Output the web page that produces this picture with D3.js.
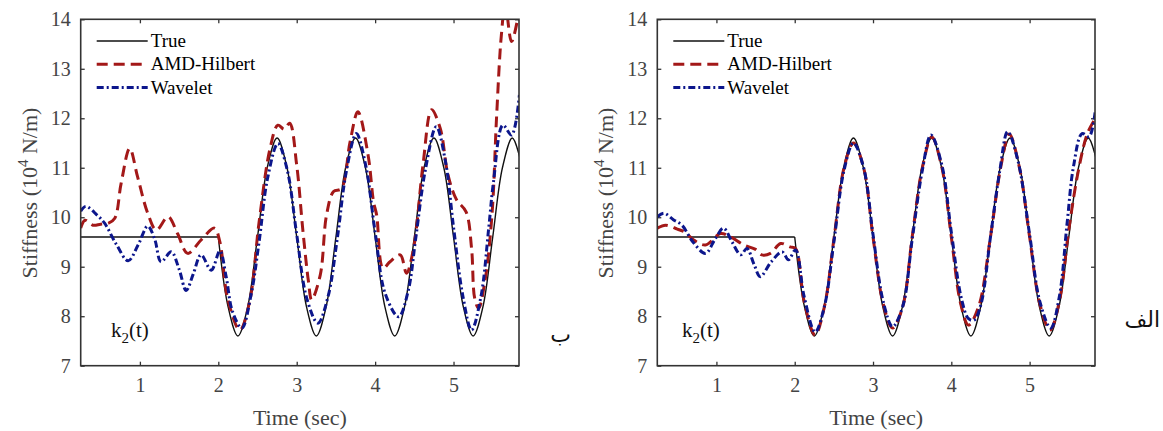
<!DOCTYPE html>
<html>
<head>
<meta charset="utf-8">
<script src="https://cdn.jsdelivr.net/npm/d3@7/dist/d3.min.js"></script>
<style>
  body { margin: 0; background: #fff; }
  svg { display: block; font-family: "Liberation Serif", "Times New Roman", "DejaVu Serif", serif; }
</style>
</head>
<body>
<svg id="chart" width="1163" height="431"></svg>
<script>
// ---- data ----
const xTicks = [1, 2, 3, 4, 5];
const yTicks = [7, 8, 9, 10, 11, 12, 13, 14];
const legendLabels = ["True", "AMD-Hilbert", "Wavelet"];

// true stiffness: flat part, then oscillation
const trueFlatT = [0.245, 2.0];
const trueFlatK = [9.6, 9.6];
const trueWaveT = [2.0, 2.125, 2.25, 2.375, 2.5, 2.625, 2.75, 2.875, 3.0, 3.125, 3.25, 3.375, 3.5, 3.625, 3.75, 3.875,
                   4.0, 4.125, 4.25, 4.375, 4.5, 4.625, 4.75, 4.875, 5.0, 5.125, 5.25, 5.375, 5.5, 5.625, 5.75, 5.875];
const trueWaveK = [9.6, 8.19, 7.6, 8.19, 9.6, 11.01, 11.6, 11.01, 9.6, 8.19, 7.6, 8.19, 9.6, 11.01, 11.6, 11.01,
                   9.6, 8.19, 7.6, 8.19, 9.6, 11.01, 11.6, 11.01, 9.6, 8.19, 7.6, 8.19, 9.6, 11.01, 11.6, 11.01];

// panel "ب" (left)
const amdLeftT = [0.245, 0.30, 0.40, 0.50, 0.60, 0.68, 0.76, 0.87, 0.97, 1.10, 1.21, 1.36, 1.48, 1.61, 1.78, 1.95, 2.02,
                  2.12, 2.275, 2.40, 2.52, 2.66, 2.76, 2.84, 2.91, 3.0, 3.08, 3.15, 3.19, 3.30, 3.38, 3.47, 3.57,
                  3.68, 3.78, 3.91, 3.98, 4.02, 4.10, 4.19, 4.32, 4.40, 4.49, 4.61, 4.72, 4.83, 4.93, 5.04, 5.16,
                  5.23, 5.27, 5.32, 5.40, 5.49, 5.55, 5.61, 5.66, 5.74, 5.84];
const amdLeftK = [9.78, 9.94, 9.84, 9.86, 9.88, 9.98, 10.68, 11.39, 10.82, 10.08, 9.74, 10.01, 9.67, 9.27, 9.54, 9.78, 9.50,
                  8.35, 7.72, 8.3, 9.9, 11.39, 11.86, 11.78, 11.90, 11.05, 9.71, 8.70, 8.33, 8.83, 10.04, 10.52, 10.58,
                  11.52, 12.13, 11.26, 10.31, 10.04, 8.97, 9.10, 9.24, 8.87, 9.37, 11.05, 12.17, 11.80, 10.85, 10.35, 10.11,
                  9.37, 8.36, 8.16, 8.70, 10.04, 12.06, 13.68, 14.3, 13.55, 14.2];
const wavLeftT = [0.245, 0.31, 0.45, 0.55, 0.70, 0.85, 0.98, 1.10, 1.19, 1.27, 1.40, 1.50, 1.59, 1.68, 1.78, 1.91, 2.02,
                  2.10, 2.18, 2.30, 2.42, 2.52, 2.63, 2.76, 2.88, 3.0, 3.13, 3.27, 3.40, 3.52, 3.63, 3.76, 3.88,
                  4.0, 4.13, 4.30, 4.42, 4.52, 4.64, 4.78, 4.90, 5.0, 5.12, 5.23, 5.35, 5.45, 5.51, 5.63, 5.74, 5.84];
const wavLeftK = [10.12, 10.22, 10.05, 9.88, 9.45, 9.12, 9.45, 9.82, 9.55, 9.10, 9.30, 8.95, 8.52, 8.85, 9.24, 8.93, 9.32,
                  8.80, 8.10, 7.76, 8.45, 9.5, 10.8, 11.49, 10.95, 9.65, 8.35, 7.86, 8.4, 9.6, 10.9, 11.69, 11.05,
                  9.7, 8.45, 7.99, 8.5, 9.6, 10.95, 11.83, 11.1, 9.8, 8.4, 7.72, 8.4, 9.8, 10.72, 11.86, 11.66, 12.47];

// panel "الف" (right)
const amdRightT = [0.245, 0.35, 0.50, 0.60, 0.71, 0.86, 1.05, 1.16, 1.35, 1.50, 1.58, 1.69, 1.82, 1.94, 2.01,
                   2.12, 2.26, 2.38, 2.5, 2.63, 2.75, 2.88, 3.0, 3.13, 3.25, 3.38, 3.5, 3.63, 3.75, 3.88,
                   4.0, 4.12, 4.22, 4.35, 4.5, 4.63, 4.74, 4.87, 5.0, 5.13, 5.26, 5.38, 5.5, 5.63, 5.74, 5.84];
const amdRightK = [9.78, 9.84, 9.76, 9.70, 9.54, 9.44, 9.67, 9.62, 9.44, 9.35, 9.24, 9.27, 9.47, 9.40, 9.37,
                   8.3, 7.62, 8.2, 9.55, 11.0, 11.5, 11.0, 9.6, 8.25, 7.76, 8.2, 9.6, 11.0, 11.62, 11.0,
                   9.6, 8.25, 7.82, 8.2, 9.6, 11.0, 11.68, 11.0, 9.6, 8.25, 7.72, 8.3, 9.75, 11.0, 11.7, 12.0];
const wavRightT = [0.245, 0.33, 0.45, 0.56, 0.70, 0.86, 0.98, 1.09, 1.20, 1.31, 1.39, 1.48, 1.56, 1.70, 1.84, 1.92, 2.01,
                   2.12, 2.26, 2.38, 2.5, 2.63, 2.75, 2.88, 3.0, 3.13, 3.25, 3.38, 3.5, 3.63, 3.74, 3.88,
                   4.0, 4.13, 4.22, 4.29, 4.38, 4.5, 4.62, 4.72, 4.85, 5.0, 5.13, 5.27, 5.38, 5.48, 5.56, 5.67, 5.76, 5.84];
const wavRightK = [10.01, 10.08, 9.95, 9.84, 9.50, 9.27, 9.55, 9.78, 9.50, 9.24, 9.37, 9.05, 8.80, 9.10, 9.30, 9.14, 9.34,
                   8.40, 7.68, 8.2, 9.5, 10.95, 11.5, 11.0, 9.65, 8.3, 7.79, 8.2, 9.55, 10.95, 11.66, 11.05,
                   9.7, 8.35, 7.95, 7.92, 8.25, 9.6, 10.95, 11.73, 11.15, 9.65, 8.3, 7.76, 8.4, 9.9, 11.02, 11.69, 11.63, 12.17];

// ---- styling ----
const colorTrue = "#111";
const colorAmd = "#a31818";
const colorWav = "#0c168c";
const tickColor = "#444";
const serif = "'Liberation Serif', 'Times New Roman', 'DejaVu Serif', serif";

const svg = d3.select("#chart");
const plotH = { top: 19.3, bottom: 365.7 };

const y = d3.scaleLinear().domain([7, 14]).range([plotH.bottom, plotH.top]);

function drawPanel(left, right, id, amdT, amdK, wavT, wavK, tag, tagX, tagY, kX) {
    const x = d3.scaleLinear().domain([0.245, 5.835]).range([left, right]);
    const g = svg.append("g");

    g.append("clipPath").attr("id", "clip" + id)
        .append("rect")
        .attr("x", left).attr("y", plotH.top)
        .attr("width", right - left).attr("height", plotH.bottom - plotH.top);

    // axes (ticks inward on all four sides)
    const fmt = d3.format("d");
    const axB = g.append("g").attr("transform", `translate(0,${plotH.bottom})`)
        .call(d3.axisBottom(x).tickValues(xTicks).tickFormat(fmt).tickSize(-4).tickPadding(12));
    const axT = g.append("g").attr("transform", `translate(0,${plotH.top})`)
        .call(d3.axisTop(x).tickValues(xTicks).tickSize(-4).tickFormat(""));
    const axL = g.append("g").attr("transform", `translate(${left},0)`)
        .call(d3.axisLeft(y).tickValues(yTicks).tickFormat(fmt).tickSize(-4).tickPadding(10));
    const axR = g.append("g").attr("transform", `translate(${right},0)`)
        .call(d3.axisRight(y).tickValues(yTicks).tickSize(-4).tickFormat(""));

    [axB, axT, axL, axR].forEach(a => {
        a.attr("font-family", null);
        a.select(".domain").remove();
        a.selectAll("line").attr("stroke", "#333").attr("stroke-width", 1.3);
        a.selectAll("text").attr("fill", tickColor).style("font-size", "20px")
            .style("font-family", serif);
    });

    const line = d3.line()
        .x(d => x(d[0]))
        .y(d => y(d[1]))
        .curve(d3.curveCatmullRom.alpha(0.5));

    const lines = g.append("g").attr("clip-path", `url(#clip${id})`);

    lines.append("path").datum(d3.zip(trueFlatT, trueFlatK))
        .attr("d", line.curve(d3.curveLinear)).attr("fill", "none")
        .attr("stroke", colorTrue).attr("stroke-width", 1.4);
    line.curve(d3.curveCatmullRom.alpha(0.5));
    lines.append("path").datum(d3.zip(trueWaveT, trueWaveK))
        .attr("d", line).attr("fill", "none")
        .attr("stroke", colorTrue).attr("stroke-width", 1.4);

    lines.append("path").datum(d3.zip(amdT, amdK))
        .attr("d", line).attr("fill", "none")
        .attr("stroke", colorAmd).attr("stroke-width", 3)
        .attr("stroke-dasharray", "11,6");

    lines.append("path").datum(d3.zip(wavT, wavK))
        .attr("d", line).attr("fill", "none")
        .attr("stroke", colorWav).attr("stroke-width", 3)
        .attr("stroke-dasharray", "7,3,2,3");

    // frame
    g.append("rect")
        .attr("x", left).attr("y", plotH.top)
        .attr("width", right - left).attr("height", plotH.bottom - plotH.top)
        .attr("fill", "none").attr("stroke", "#333").attr("stroke-width", 1.6);

    // axis titles
    g.append("text")
        .attr("x", (left + right) / 2)
        .attr("y", 425)
        .attr("text-anchor", "middle")
        .attr("fill", tickColor)
        .style("font-family", serif)
        .style("font-size", "22px")
        .text("Time (sec)");

    const yl = g.append("text")
        .attr("transform", `translate(${left - 44},193) rotate(-90)`)
        .attr("text-anchor", "middle")
        .attr("fill", tickColor)
        .style("font-family", serif)
        .style("font-size", "22px");
    yl.append("tspan").text("Stiffness (10");
    yl.append("tspan").attr("dy", -9).style("font-size", "15px").text("4");
    yl.append("tspan").attr("dy", 9).text(" N/m)");

    // legend
    const legendStyles = [
        { color: colorTrue, width: 1.4, dash: null },
        { color: colorAmd, width: 3, dash: "11,6" },
        { color: colorWav, width: 3, dash: "7,3,2,3" }
    ];
    legendLabels.forEach((lab, i) => {
        const ly = 41 + i * 23.3;
        g.append("line")
            .attr("x1", left + 16).attr("x2", left + 67)
            .attr("y1", ly).attr("y2", ly)
            .attr("stroke", legendStyles[i].color)
            .attr("stroke-width", legendStyles[i].width)
            .attr("stroke-dasharray", legendStyles[i].dash);
        g.append("text")
            .attr("x", left + 70).attr("y", ly + 6)
            .attr("fill", "#000")
            .style("font-family", serif)
            .style("font-size", "19px")
            .text(lab);
    });

    // k2(t) label
    const kt = g.append("text").attr("x", kX).attr("y", 337).attr("fill", "#111")
        .style("font-family", serif).style("font-size", "21px");
    kt.append("tspan").text("k");
    kt.append("tspan").attr("dy", 6).style("font-size", "15px").text("2");
    kt.append("tspan").attr("dy", -6).text("(t)");

    // panel tag (Arabic)
    g.append("text")
        .attr("x", tagX).attr("y", tagY)
        .attr("text-anchor", "end")
        .attr("fill", "#111")
        .style("font-size", "22px")
        .style("font-family", "'DejaVu Serif', 'DejaVu Sans', serif")
        .text(tag);
}

drawPanel(80.7, 519, "L", amdLeftT, amdLeftK, wavLeftT, wavLeftK, "ب", 571, 342, 111);
drawPanel(657.3, 1095, "R", amdRightT, amdRightK, wavRightT, wavRightK, "الف", 1160, 327, 682);
</script>
</body>
</html>
